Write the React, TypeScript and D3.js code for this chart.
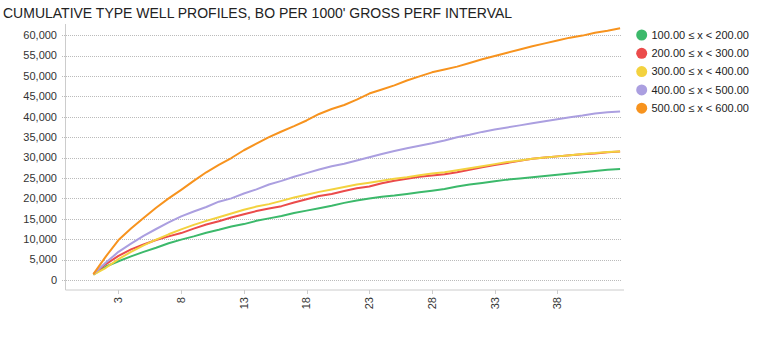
import React from "react";
import * as d3 from "d3";

const TITLE = "CUMULATIVE TYPE WELL PROFILES, BO PER 1000' GROSS PERF INTERVAL";
const months = d3.range(1, 44);
const xTicks = [3, 8, 13, 18, 23, 28, 33, 38];
const yTicks = [0, 5000, 10000, 15000, 20000, 25000, 30000, 35000, 40000, 45000, 50000, 55000, 60000];

const seriesNames = ["100.00 ≤ x < 200.00", "200.00 ≤ x < 300.00", "300.00 ≤ x < 400.00", "400.00 ≤ x < 500.00", "500.00 ≤ x < 600.00"];
const seriesColors = ["#3cb96b", "#eb4b4b", "#f3d23f", "#ab9fe0", "#f7931e"];

const green = [1300, 3300, 4600, 5800, 6900, 7900, 9000, 9900, 10700, 11600, 12300, 13100, 13700, 14500, 15100, 15700, 16400, 17000, 17600, 18200, 18900, 19500, 20000, 20400, 20700, 21100, 21500, 21900, 22300, 22900, 23400, 23800, 24200, 24600, 24900, 25200, 25500, 25800, 26100, 26400, 26700, 27000, 27200];
const red = [1400, 3900, 5900, 7500, 8700, 9800, 10700, 11500, 12600, 13600, 14400, 15300, 16100, 16900, 17500, 18100, 19000, 19800, 20600, 21100, 21800, 22500, 22900, 23700, 24300, 24800, 25300, 25600, 25900, 26400, 27000, 27600, 28200, 28700, 29200, 29700, 30000, 30300, 30600, 30800, 31000, 31300, 31500];
const yellow = [1300, 3000, 5100, 6900, 8500, 9900, 11200, 12400, 13500, 14500, 15400, 16300, 17200, 18000, 18600, 19400, 20200, 20900, 21600, 22200, 22800, 23400, 23850, 24300, 24800, 25200, 25700, 26100, 26400, 26900, 27400, 27900, 28400, 28900, 29300, 29700, 30000, 30300, 30600, 30900, 31100, 31400, 31500];
const purple = [1450, 4300, 6900, 8900, 10800, 12500, 14100, 15600, 16800, 17900, 19200, 20000, 21200, 22200, 23400, 24300, 25300, 26200, 27100, 27900, 28500, 29300, 30100, 30900, 31600, 32300, 32900, 33500, 34200, 35000, 35600, 36300, 36900, 37400, 37900, 38400, 38900, 39400, 39900, 40300, 40800, 41100, 41300];
const orange = [1450, 5800, 9800, 12600, 15200, 17700, 20000, 22100, 24300, 26400, 28200, 29900, 31800, 33400, 35000, 36400, 37700, 39100, 40700, 41900, 42900, 44200, 45700, 46700, 47700, 48900, 49900, 50900, 51600, 52300, 53200, 54100, 54900, 55700, 56500, 57300, 58000, 58700, 59400, 59900, 60600, 61100, 61700];

const allSeries = [green, red, yellow, purple, orange];

export default function App() {
  const W = 766, H = 349;
  const left = 65.5, right = 621, axisTop = 24, axisBottom = 290;
  const x = d3.scaleLinear().domain([1, 43]).range([93.4, 620.1]);
  const y = d3.scaleLinear().domain([0, 60000]).range([280, 35.2]);
  const line = d3.line<number>().x((_, i) => x(months[i])).y((d) => y(d));
  const fmt = d3.format(",");
  const font = "'Liberation Sans', Arial, sans-serif";

  return (
    <svg width={W} height={H} style={{ position: "absolute", left: 0, top: 0, background: "#fff" }} fontFamily={font}>
      <text x={3} y={18} fontSize={14} fill="#222">{TITLE}</text>
      {yTicks.map((t) => (
        <g key={t}>
          <line x1={62} x2={right} y1={Math.round(y(t)) + 0.5} y2={Math.round(y(t)) + 0.5} stroke="#bbb" strokeDasharray="1,1" />
          <text x={57} y={y(t)} dy="0.35em" textAnchor="end" fontSize={11} fill="#333">{fmt(t)}</text>
        </g>
      ))}
      <line x1={left} x2={left} y1={axisTop} y2={axisBottom} stroke="#ccc" />
      <line x1={left} x2={right + 3} y1={axisBottom} y2={axisBottom} stroke="#ccc" />
      {xTicks.map((t) => (
        <g key={t}>
          <line x1={Math.round(x(t)) + 0.5} x2={Math.round(x(t)) + 0.5} y1={axisBottom} y2={axisBottom + 4} stroke="#ccc" />
          <text transform={`translate(${x(t)},${297}) rotate(-90)`} dy="0.35em" textAnchor="end" fontSize={11} fill="#333">{t}</text>
        </g>
      ))}
      {allSeries.map((s, i) => (
        <path key={i} d={line(s) || ""} fill="none" stroke={seriesColors[i]} strokeWidth={2} strokeLinejoin="round" />
      ))}
      {seriesNames.map((n, i) => (
        <g key={n}>
          <circle cx={641.7} cy={35 + i * 18.3} r={5.5} fill={seriesColors[i]} />
          <text x={651.5} y={35 + i * 18.3} dy="0.35em" fontSize={11} fill="#222">{n}</text>
        </g>
      ))}
    </svg>
  );
}
